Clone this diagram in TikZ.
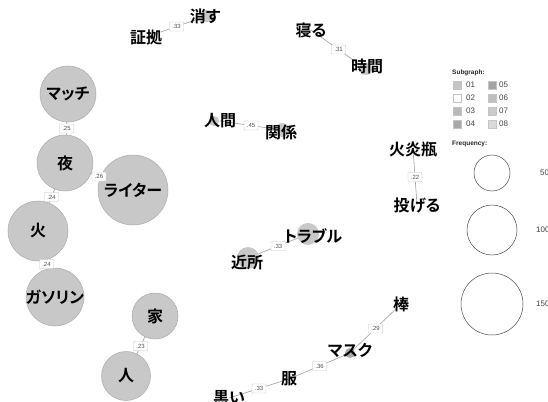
\documentclass[tikz,border=0pt]{standalone}
\usepackage{fontspec}
\setsansfont{Liberation Sans}
\newfontfamily\jp[RawFeature=+palt,BoldFont={Noto Sans CJK JP Bold}]{Noto Sans CJK JP}
\pgfdeclarelayer{bg}
\pgfdeclarelayer{fg}
\pgfsetlayers{bg,main,fg}
\definecolor{bubfill}{HTML}{C8C8C8}
\definecolor{bubdraw}{HTML}{ABABAB}
\definecolor{bubdark}{HTML}{A6A6A6}
\definecolor{edgec}{HTML}{A0A0A0}
\definecolor{lblc}{HTML}{C4C4C4}
\definecolor{lbltext}{HTML}{505050}
\definecolor{sg1}{HTML}{C4C4C4}
\definecolor{sg2}{HTML}{FFFFFF}
\definecolor{sg3}{HTML}{B8B8B8}
\definecolor{sg4}{HTML}{A8A8A8}
\definecolor{sg5}{HTML}{A4A4A4}
\definecolor{sg6}{HTML}{BEBEBE}
\definecolor{sg7}{HTML}{CACACA}
\definecolor{sg8}{HTML}{DADADA}
\definecolor{legtext}{HTML}{444444}
\tikzset{
  word/.style={inner sep=0pt, font=\jp\bfseries\fontsize{16}{16}\selectfont},
  bigbub/.style={circle, fill=bubfill, draw=bubdraw, line width=0.5pt, inner sep=0pt, minimum size=#1},
  smallbub/.style={circle, fill=bubfill, inner sep=0pt, minimum size=#1},
  edgeline/.style={draw=edgec, line width=0.6pt},
  elabel/.style={draw=lblc, fill=white, line width=0.4pt, rounded corners=0.5pt, inner sep=0.8pt,
    minimum width=14pt, minimum height=9pt, text=lbltext, font=\sffamily\fontsize{6}{6}\selectfont},
  legsq/.style={draw=lblc, line width=0.4pt, minimum size=8pt, inner sep=0pt},
  legnum/.style={anchor=west, inner sep=0pt, text=legtext, font=\sffamily\fontsize{8}{9}\selectfont},
  leghead/.style={anchor=west, inner sep=0pt, text=black!85, font=\sffamily\bfseries\fontsize{6.5}{7}\selectfont},
  freqc/.style={circle, draw=black!70, line width=0.5pt, fill=white, inner sep=0pt, minimum size=#1},
}
\begin{document}
\begin{tikzpicture}[x=1pt,y=-1pt]
\clip (0,0) rectangle (548,401);
\begin{pgfonlayer}{bg}
\fill[white] (0,0) rectangle (548,401);
\end{pgfonlayer}

% ---------- big bubbles ----------
\node[bigbub=56pt] (match) at (68,94) {};
\node[bigbub=56pt] (yoru) at (65,163) {};
\node[bigbub=70pt] (lighter) at (133,190) {};
\node[bigbub=60pt] (hi) at (38,231) {};
\node[bigbub=58pt] (gasoline) at (55,297) {};
\node[bigbub=46pt] (ie) at (155,316) {};
\node[bigbub=49pt] (hito) at (126,376) {};

% ---------- small bubbles ----------
\node[smallbub=12pt] (kesuB) at (207,16) {};
\node[smallbub=12pt] (jikanB) at (366,69) {};
\node[smallbub=10pt] (ningenB) at (214,121) {};
\node[smallbub=14pt] (kankeiB) at (282,130) {};
\node[smallbub=22pt] (kinjoB) at (248,258) {};
\node[smallbub=22pt] (troubleB) at (308,234) {};
\node[smallbub=10pt, fill=bubdark] (maskB) at (350,353) {};

% ---------- words ----------
\begin{pgfonlayer}{fg}
\node[word] (shoko) at (146,37) {証拠};
\node[word] (kesu) at (205,16) {消す};
\node[word] (neru) at (311,30) {寝る};
\node[word] (jikan) at (367,66) {時間};
\node[word] (ningen) at (220,121) {人間};
\node[word] (kankei) at (281,132) {関係};
\node[word] (kaenbin) at (413,149) {火炎瓶};
\node[word] (nageru) at (417,205) {投げる};
\node[word] (kinjo) at (247,262) {近所};
\node[word] (trouble) at (313,236) {トラブル};
\node[word] (bou) at (401,304) {棒};
\node[word] (mask) at (350,350) {マスク};
\node[word] (fuku) at (289,379) {服};
\node[word] (kuroi) at (229,398) {黒い};
\node[word] at (match.center) {マッチ};
\node[word] at (yoru.center) {夜};
\node[word] at (lighter.center) {ライター};
\node[word] at (hi.center) {火};
\node[word] at (gasoline.center) {ガソリン};
\node[word] at (ie.center) {家};
\node[word] at (hito.center) {人};
\end{pgfonlayer}

% ---------- edges ----------
\begin{pgfonlayer}{bg}
\draw[edgeline] (shoko.center) -- (kesuB.center);
\draw[edgeline] (neru.center) -- (jikanB.center);
\draw[edgeline] (ningen.center) -- (kankeiB.center);
\draw[edgeline] (kaenbin.center) -- (nageru.center);
\draw[edgeline] (kinjoB.center) -- (troubleB.center);
\draw[edgeline] (bou.center) -- (maskB.center);
\draw[edgeline] (maskB.center) -- (fuku.center);
\draw[edgeline] (fuku.center) -- (kuroi.center);
\draw[edgeline] (match.center) -- (yoru.center);
\draw[edgeline] (yoru.center) -- (lighter.center);
\draw[edgeline] (yoru.center) -- (hi.center);
\draw[edgeline] (hi.center) -- (gasoline.center);
\draw[edgeline] (ie.center) -- (hito.center);
\end{pgfonlayer}

% ---------- edge labels ----------
\begin{pgfonlayer}{fg}
\path (shoko.center) -- node[elabel] {.33} (kesuB.center);
\path (neru.center) -- node[elabel] {.31} (jikanB.center);
\path (ningen.center) -- node[elabel] {.45} (kankeiB.center);
\path (kaenbin.center) -- node[elabel] {.22} (nageru.center);
\path (kinjoB.center) -- node[elabel] {.33} (troubleB.center);
\path (bou.center) -- node[elabel] {.29} (maskB.center);
\path (maskB.center) -- node[elabel] {.36} (fuku.center);
\path (fuku.center) -- node[elabel] {.33} (kuroi.center);
\path (match.center) -- node[elabel] {.25} (yoru.center);
\path (yoru.center) -- node[elabel] {.26} (lighter.center);
\path (yoru.center) -- node[elabel] {.24} (hi.center);
\path (hi.center) -- node[elabel] {.24} (gasoline.center);
\path (ie.center) -- node[elabel] {.23} (hito.center);
\end{pgfonlayer}

% ---------- legend ----------
\node[leghead] (sghead) at (452,73) {Subgraph:};
\node[legsq, fill=sg1] (s1) at (457.5,85) {};
\node[legsq, fill=sg2] (s2) at (457.5,98) {};
\node[legsq, fill=sg3] (s3) at (457.5,111) {};
\node[legsq, fill=sg4] (s4) at (457.5,124) {};
\node[legsq, fill=sg5] (s5) at (492,85) {};
\node[legsq, fill=sg6] (s6) at (492,98) {};
\node[legsq, fill=sg7] (s7) at (492,111) {};
\node[legsq, fill=sg8] (s8) at (492,124) {};
\node[legnum] (n1) at (466,85) {01};
\node[legnum] (n2) at (466,98) {02};
\node[legnum] (n3) at (466,111) {03};
\node[legnum] (n4) at (466,124) {04};
\node[legnum] (n5) at (499,85) {05};
\node[legnum] (n6) at (499,98) {06};
\node[legnum] (n7) at (499,111) {07};
\node[legnum] (n8) at (499,124) {08};
\node[leghead] (fqhead) at (452,144) {Frequency:};
\node[freqc=36pt] (f50) at (492,173) {};
\node[freqc=50pt] (f100) at (492,230) {};
\node[freqc=62pt] (f150) at (492,304) {};
\node[legnum] (t50) at (540,173) {50};
\node[legnum] (t100) at (536,230) {100};
\node[legnum] (t150) at (536,304) {150};
\end{tikzpicture}
\end{document}
